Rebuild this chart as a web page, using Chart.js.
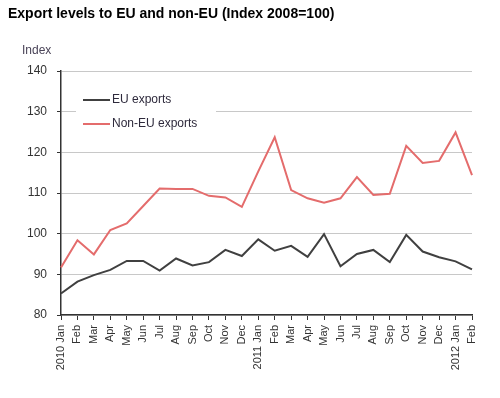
<!DOCTYPE html>
<html>
<head>
<meta charset="utf-8">
<script src="https://cdn.jsdelivr.net/npm/chart.js@4"></script>
<style>
    html, body { margin: 0; padding: 0; background: #fff; }
    #wrap { width: 500px; height: 398px; position: relative; }
</style>
</head>
<body>
<div id="wrap"><canvas id="chart" width="500" height="398"></canvas></div>
<script>
// Month labels, Jan 2010 to Feb 2012.
const months = [
    ['Jan', '2010'], 'Feb', 'Mar', 'Apr', 'May', 'Jun', 'Jul', 'Aug', 'Sep', 'Oct', 'Nov', 'Dec',
    ['Jan', '2011'], 'Feb', 'Mar', 'Apr', 'May', 'Jun', 'Jul', 'Aug', 'Sep', 'Oct', 'Nov', 'Dec',
    ['Jan', '2012'], 'Feb'
];
const monthLabels = months.map(m => Array.isArray(m) ? m[1] + ' ' + m[0] : m);

const euExports = [
    85.3, 88.2, 89.8, 91.1, 93.3, 93.3, 90.9, 93.9, 92.2, 93.0, 96.0, 94.5,
    98.6, 95.8, 97.0, 94.3, 99.9, 92.0, 95.0, 96.0, 93.0, 99.7, 95.6, 94.2,
    93.2, 91.2
];
const nonEuExports = [
    91.7, 98.4, 94.9, 100.9, 102.5, 106.8, 111.1, 111.0, 111.0, 109.3, 108.9, 106.6,
    115.3, 123.7, 110.7, 108.7, 107.6, 108.7, 113.9, 109.5, 109.8, 121.6, 117.4, 117.9,
    124.9, 114.4
];
const yTicks = { min: 80, max: 140, step: 10 };

const titleText = 'Export levels to EU and non-EU (Index 2008=100)';
const yAxisTitle = 'Index';

const textColor = '#333333';
const fontFamily = '"Liberation Sans", Arial, sans-serif';

// Draws the heading and the "Index" label above the axis.
const headingPlugin = {
    id: 'heading',
    afterDraw(chart) {
        const ctx = chart.ctx;
        ctx.save();
        ctx.fillStyle = '#000';
        ctx.font = 'bold 14px ' + fontFamily;
        ctx.textBaseline = 'alphabetic';
        ctx.textAlign = 'left';
        ctx.fillText(titleText, 8, 18);
        ctx.fillStyle = '#4a4458';
        ctx.font = '12px ' + fontFamily;
        ctx.fillText(yAxisTitle, 22, 54);
        ctx.restore();
    }
};

// Legend drawn inside the plot area, top left, on a white box.
const insideLegend = {
    id: 'insideLegend',
    afterDraw(chart) {
        const ctx = chart.ctx;
        ctx.save();
        ctx.fillStyle = '#fff';
        ctx.fillRect(76, 88, 140, 48);
        ctx.font = '12px ' + fontFamily;
        ctx.textBaseline = 'middle';
        chart.data.datasets.forEach((ds, i) => {
            const y = 100 + i * 24;
            ctx.strokeStyle = ds.borderColor;
            ctx.lineWidth = 2;
            ctx.beginPath();
            ctx.moveTo(83, y);
            ctx.lineTo(110, y);
            ctx.stroke();
            ctx.fillStyle = '#2e2a3c';
            ctx.fillText(ds.label, 112, y);
        });
        ctx.restore();
    }
};

new Chart(document.getElementById('chart'), {
    type: 'line',
    data: {
        labels: monthLabels,
        datasets: [
            {
                label: 'EU exports',
                data: euExports,
                borderColor: '#404040',
                borderWidth: 2,
                pointRadius: 0,
                tension: 0
            },
            {
                label: 'Non-EU exports',
                data: nonEuExports,
                borderColor: '#e46c6c',
                borderWidth: 2,
                pointRadius: 0,
                tension: 0
            }
        ]
    },
    options: {
        responsive: false,
        animation: false,
        layout: { padding: { left: 0, top: 71, right: 28, bottom: 0 } },
        plugins: {
            legend: { display: false },
            title: { display: false },
            tooltip: { enabled: false }
        },
        scales: {
            x: {
                offset: false,
                grid: {
                    display: true,
                    drawOnChartArea: false,
                    drawTicks: true,
                    tickLength: 5,
                    color: '#333'
                },
                border: { color: '#333', width: 1.5 },
                ticks: {
                    autoSkip: false,
                    maxRotation: 90,
                    minRotation: 90,
                    padding: 5,
                    color: textColor,
                    font: { family: fontFamily, size: 11 }
                },
                afterFit(scale) { scale.height = 83; }
            },
            y: {
                min: yTicks.min,
                max: yTicks.max,
                ticks: {
                    stepSize: yTicks.step,
                    padding: 10,
                    color: textColor,
                    font: { family: fontFamily, size: 12 }
                },
                grid: {
                    color: '#c8c8c8',
                    lineWidth: 1,
                    tickLength: 4,
                    tickColor: '#333'
                },
                border: { color: '#333', width: 1.5 },
                afterFit(scale) { scale.width = 61; }
            }
        }
    },
    plugins: [headingPlugin, insideLegend]
});
</script>
</body>
</html>
